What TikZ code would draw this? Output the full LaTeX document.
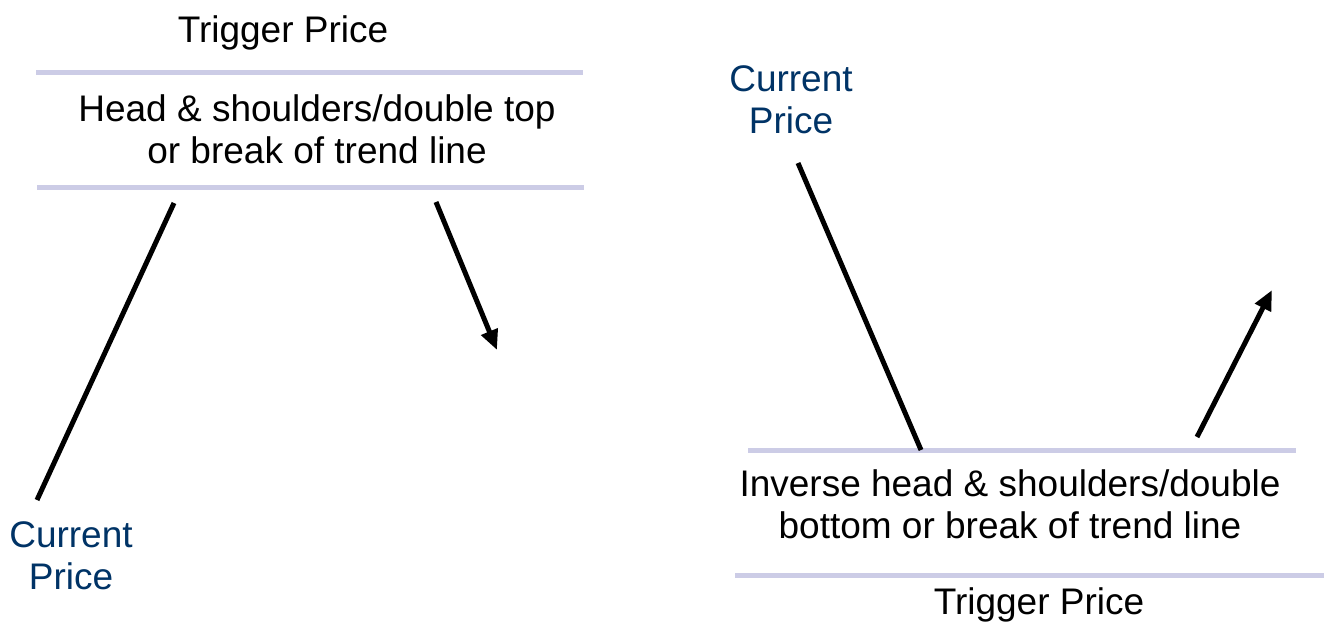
\documentclass[tikz,border=0pt]{standalone}
\usepackage{fontspec}
\setmainfont{Liberation Sans}
\usetikzlibrary{arrows.meta}
\definecolor{barline}{RGB}{204,204,230}
\definecolor{priceblue}{RGB}{0,51,102}
\tikzset{
  x=1pt, y=-1pt,
  bar/.style={draw=barline, line width=5pt},
  trend/.style={draw=black, line width=5pt},
  trendarrow/.style={trend, -{Triangle[length=20pt,width=17pt]}},
  lbl/.style={font=\fontsize{37}{42}\selectfont, align=center, inner sep=0pt, text=black},
  price/.style={lbl, text=priceblue}
}
\begin{document}
\begin{tikzpicture}
\useasboundingbox (0,0) rectangle (1325,624);
% left panel
\node[lbl] (trigL) at (283,33) {Trigger Price};
\coordinate (barL1a) at (36,72);  \coordinate (barL1b) at (583,72);
\coordinate (barL2a) at (37,187); \coordinate (barL2b) at (584,187);
\draw[bar] (barL1a) -- (barL1b);
\draw[bar] (barL2a) -- (barL2b);
\node[lbl] (patL) at (317,129) {Head \& shoulders/double top\\or break of trend line};
\coordinate (upS) at (37,500); \coordinate (upE) at (174,203);
\draw[trend] (upS) -- (upE);
\coordinate (dnS) at (436,202); \coordinate (dnE) at (497,350);
\draw[trendarrow] (dnS) -- (dnE);
\node[price] (curL) at (71,556) {Current\\Price};
% right panel
\node[price] (curR) at (791,100) {Current\\Price};
\coordinate (barR1a) at (748,450); \coordinate (barR1b) at (1296,450);
\coordinate (barR2a) at (735,575); \coordinate (barR2b) at (1324,575);
\draw[bar] (barR1a) -- (barR1b);
\draw[bar] (barR2a) -- (barR2b);
\coordinate (dwS) at (798,163); \coordinate (dwE) at (921,450);
\draw[trend] (dwS) -- (dwE);
\coordinate (rsS) at (1197,437); \coordinate (rsE) at (1272,290);
\draw[trendarrow] (rsS) -- (rsE);
\node[lbl] (patR) at (1010,504) {Inverse head \& shoulders/double\\bottom or break of trend line};
\node[lbl] (trigR) at (1039,605) {Trigger Price};
\end{tikzpicture}
\end{document}
